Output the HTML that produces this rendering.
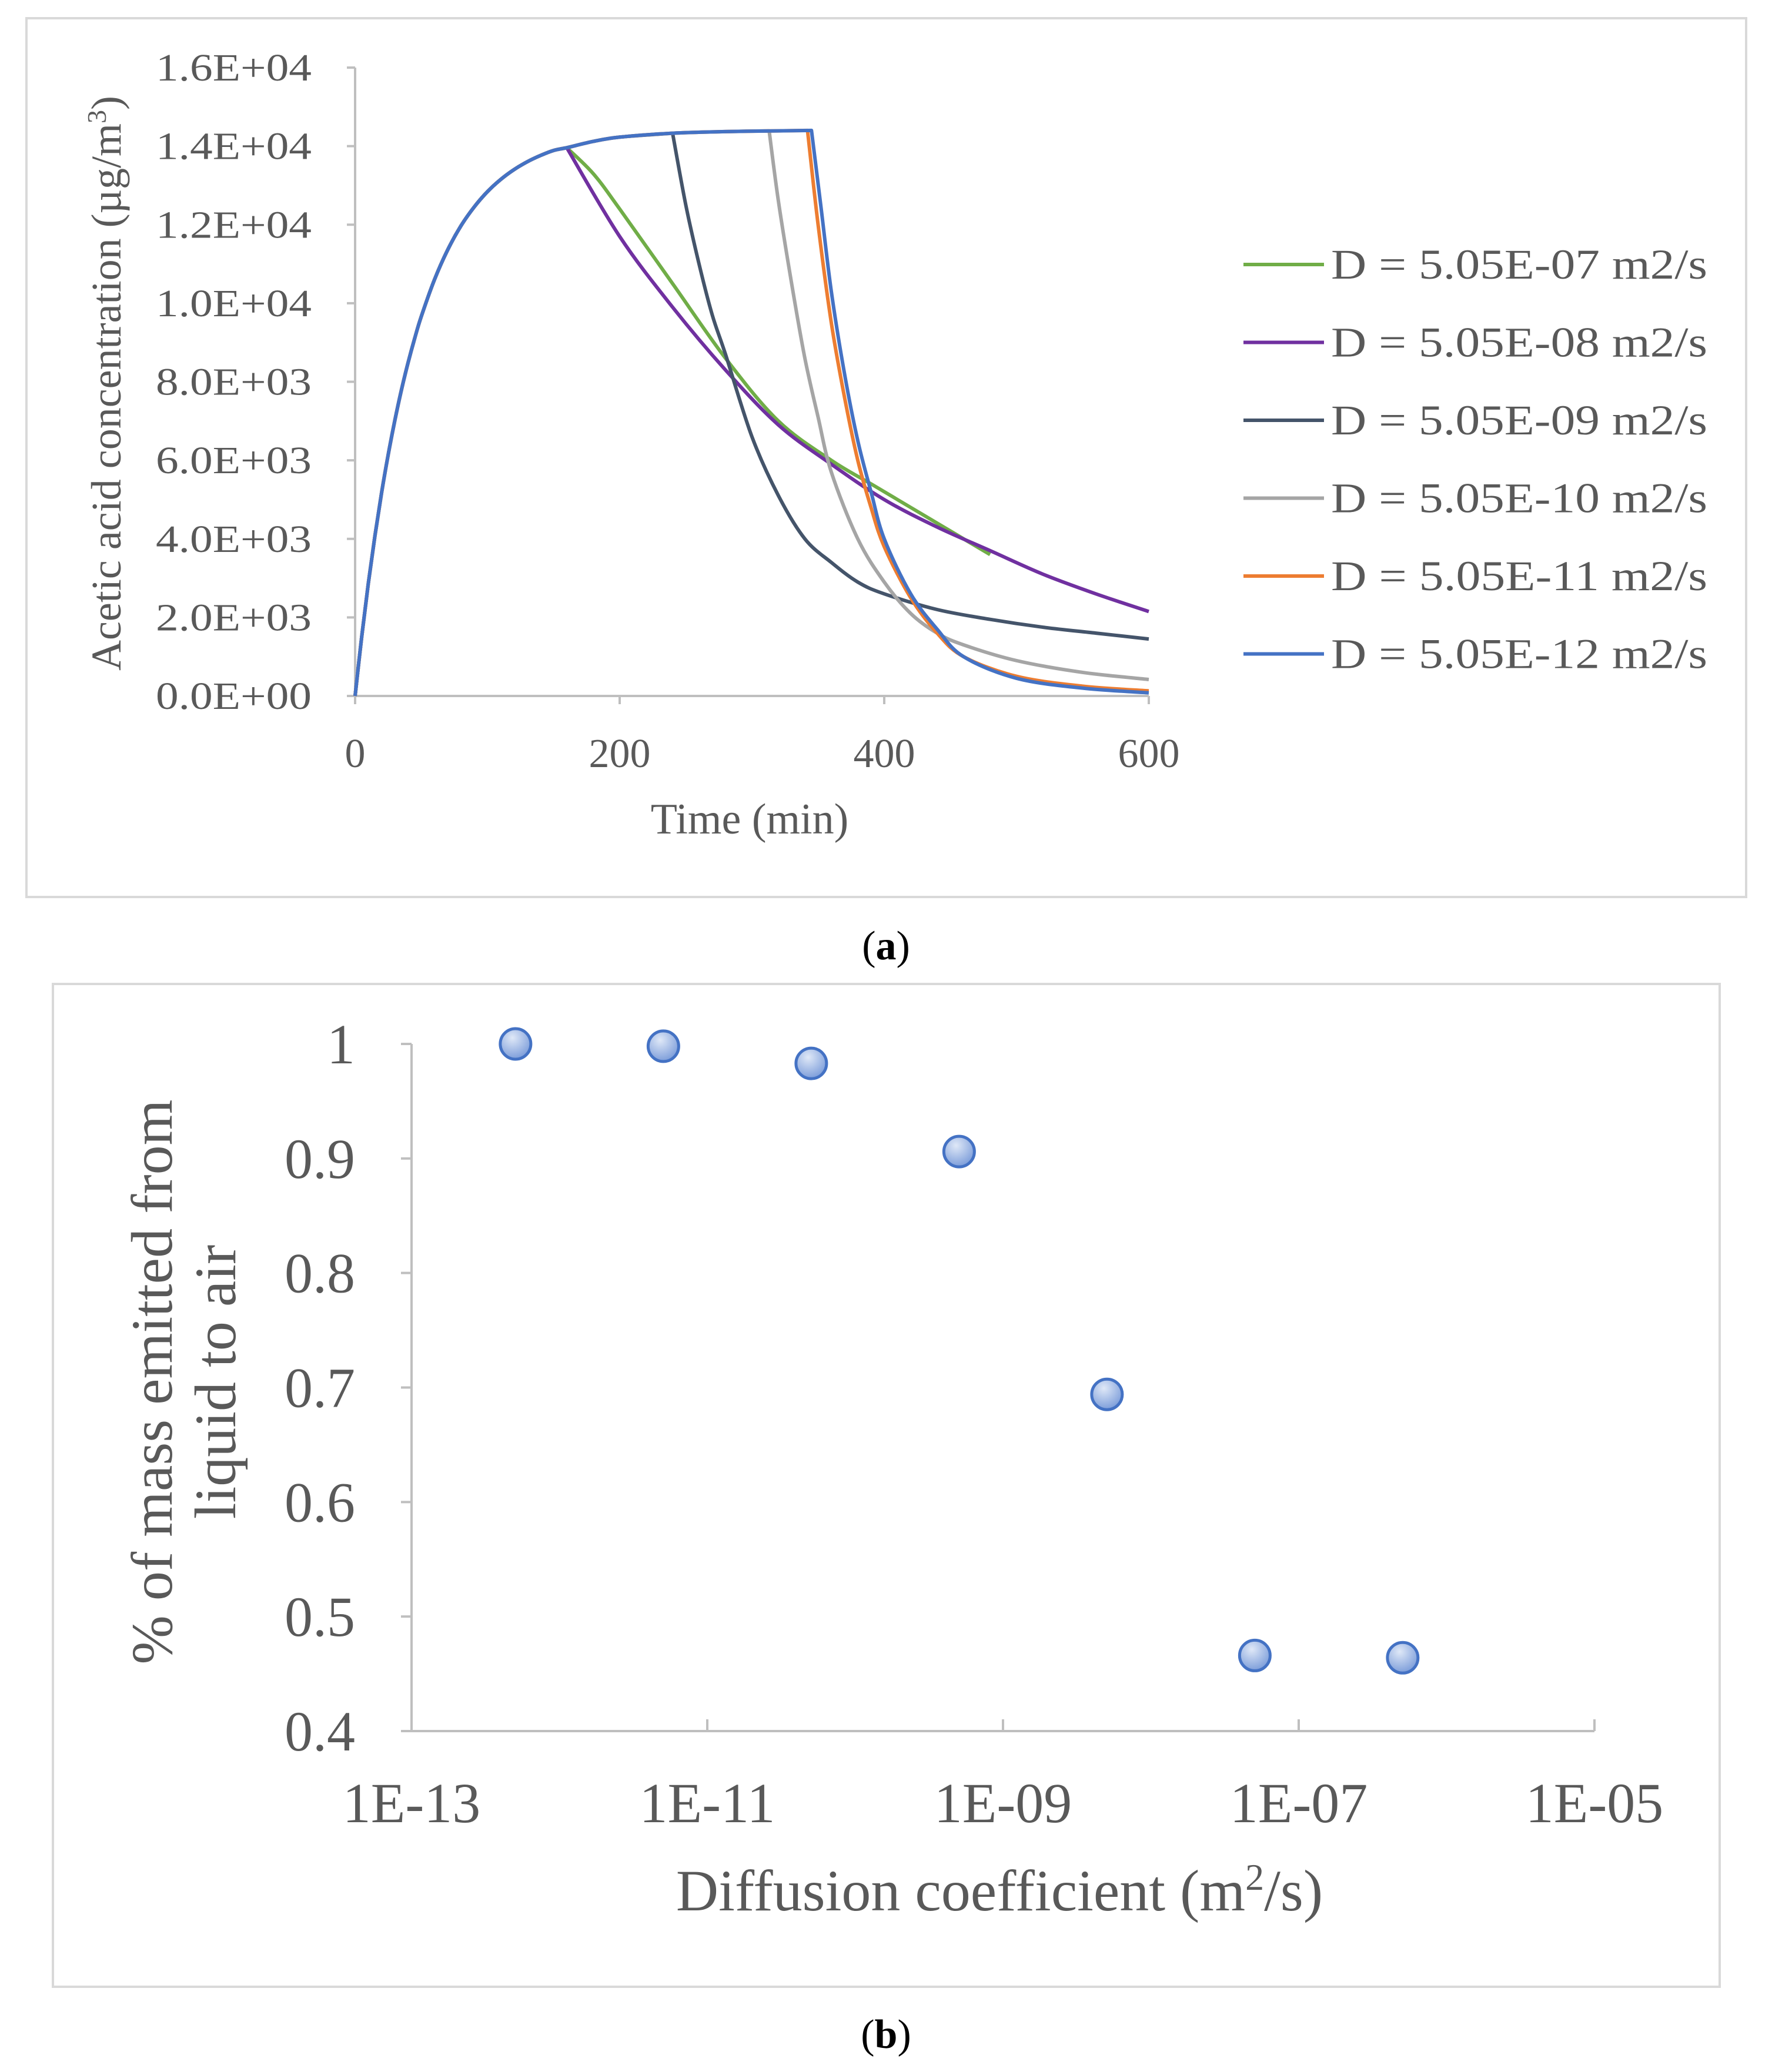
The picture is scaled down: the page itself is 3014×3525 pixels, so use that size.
<!DOCTYPE html>
<html><head><meta charset="utf-8"><style>
html,body{margin:0;padding:0;background:#fff}
svg{display:block}
text{font-family:"Liberation Serif","DejaVu Serif",serif;fill:#595959}
</style></head><body>
<svg id="s" width="3014" height="3525" viewBox="0 0 3014 3525" xmlns="http://www.w3.org/2000/svg">
<rect x="45" y="31" width="2925" height="1495" fill="#fff" stroke="#d9d9d9" stroke-width="4"/>
<g id="ga"></g>
<text x="1507" y="1632" font-size="70" text-anchor="middle" font-family="Liberation Serif, serif" style="fill:#000">(<tspan font-weight="bold">a</tspan>)</text>
<rect x="90" y="1674" width="2835" height="1706" fill="#fff" stroke="#d9d9d9" stroke-width="4"/>
<g id="gb"></g>
<text x="1507" y="3484" font-size="70" text-anchor="middle" font-family="Liberation Serif, serif" style="fill:#000">(<tspan font-weight="bold">b</tspan>)</text>
<defs><radialGradient id="mg" cx="0.4" cy="0.3" r="0.8"><stop offset="0" stop-color="#dfe8f7"/><stop offset="1" stop-color="#6f93d6"/></radialGradient></defs>
</svg>
<script>
// ---- Chart A data ----
const riseT = [0,5,10,15,20,25,30,35,40,45,50,60,70,80,90,100,110,120,130,140,150,160,180,200,240,280,320,345];
const riseV = [0,1510,2870,4080,5170,6140,7010,7790,8480,9100,9660,10600,11360,11970,12450,12840,13150,13400,13600,13760,13890,13960,14120,14230,14330,14370,14390,14400];
const seriesNames = ["D = 5.05E-07 m2/s","D = 5.05E-08 m2/s","D = 5.05E-09 m2/s","D = 5.05E-10 m2/s","D = 5.05E-11 m2/s","D = 5.05E-12 m2/s"];
const seriesColors = ["#70ad47","#7030a0","#44546a","#a5a5a5","#ed7d31","#4472c4"];
const decT07 = [160,180,200,240,280,320,360,390,420,450,480];
const decV07 = [13960,13300,12400,10500,8600,7000,6000,5400,4800,4200,3600];
const decT08 = [160,200,240,280,320,360,400,440,480,520,560,600];
const decV08 = [13960,11700,9900,8300,6900,5900,5000,4300,3700,3100,2600,2150];
const decT09 = [240,250,260,270,280,300,320,340,360,380,400,440,480,520,560,600];
const decV09 = [14330,12500,11000,9700,8700,6600,5100,4000,3400,2900,2600,2200,1950,1750,1600,1450];
const decT10 = [313,320,330,340,350,360,380,400,420,440,460,500,550,600];
const decV10 = [14390,12600,10500,8600,7100,5700,4000,2900,2100,1600,1300,900,600,420];
const decT11 = [342,350,360,370,380,390,400,420,440,460,500,550,600];
const decV11 = [14400,12000,9500,7600,6000,4800,3800,2500,1600,1000,500,250,130];
const decT12 = [345,352,360,370,380,390,400,420,440,460,500,550,600];
const decV12 = [14400,12500,10300,8200,6500,5200,4000,2600,1700,1000,450,200,80];
const yTicksA = ["0.0E+00","2.0E+03","4.0E+03","6.0E+03","8.0E+03","1.0E+04","1.2E+04","1.4E+04","1.6E+04"];
const xTicksA = [0,200,400,600];
// ---- Chart B data ----
const diffCoef = [5.05e-13,5.05e-12,5.05e-11,5.05e-10,5.05e-9,5.05e-8,5.05e-7];
const massFrac = [1.0,0.998,0.983,0.906,0.694,0.466,0.464];
const yTicksB = [0.4,0.5,0.6,0.7,0.8,0.9,1];
const xTicksB = ["1E-13","1E-11","1E-09","1E-07","1E-05"];

const NS="http://www.w3.org/2000/svg";
function mk(p,tag,at){const e=document.createElementNS(NS,tag);for(const k in at)e.setAttribute(k,at[k]);p.appendChild(e);return e;}
function smooth(pts){
 let d='M'+pts[0][0]+','+pts[0][1];
 for(let i=0;i<pts.length-1;i++){
  const p0=pts[Math.max(0,i-1)],p1=pts[i],p2=pts[i+1],p3=pts[Math.min(pts.length-1,i+2)];
  const c1=[p1[0]+(p2[0]-p0[0])/6,p1[1]+(p2[1]-p0[1])/6];
  const c2=[p2[0]-(p3[0]-p1[0])/6,p2[1]-(p3[1]-p1[1])/6];
  d+=' C'+c1.join(',')+' '+c2.join(',')+' '+p2.join(',');
 }
 return d;
}
// Chart A
const ga=document.getElementById('ga');
const AX0=604,AX1=1954,AY0=1184,AY1=115;
const xa=t=>AX0+(t/600)*(AX1-AX0);
const ya=v=>AY0-(v/16000)*(AY0-AY1);
let e;
e=mk(ga,'line',{x1:AX0,y1:AY1,x2:AX0,y2:AY0,stroke:'#bfbfbf','stroke-width':4});

e=mk(ga,'line',{x1:AX0,y1:AY0,x2:AX1,y2:AY0,stroke:'#bfbfbf','stroke-width':4});

yTicksA.forEach((lab,i)=>{const y=ya(i*2000);
 e=mk(ga,'line',{x1:AX0-14,y1:y,x2:AX0,y2:y,stroke:'#bfbfbf','stroke-width':4});
 
 e=mk(ga,'text',{x:530,y:y+22,'font-size':66,'text-anchor':'end','textLength':265,'lengthAdjust':'spacingAndGlyphs'});e.textContent=lab;
 });
xTicksA.forEach(t=>{const x=xa(t);
 e=mk(ga,'line',{x1:x,y1:AY0,x2:x,y2:AY0+14,stroke:'#bfbfbf','stroke-width':4});
 
 e=mk(ga,'text',{x:x,y:1305,'font-size':70,'text-anchor':'middle'});e.textContent=t;
 });
e=mk(ga,'text',{x:1275,y:1418,'font-size':74,'text-anchor':'middle'});e.textContent='Time (min)';

e=mk(ga,'text',{x:0,y:0,'font-size':72,'text-anchor':'middle',transform:'translate(205,652) rotate(-90)'});
e.innerHTML='Acetic acid concentration (µg/m<tspan dy="-25" font-size="46">3</tspan><tspan dy="25">)</tspan>';

const decT=[decT07,decT08,decT09,decT10,decT11,decT12],decV=[decV07,decV08,decV09,decV10,decV11,decV12];
decT.forEach((dt,s)=>{
 const rise=[];riseT.forEach((t,i)=>{if(t<dt[0])rise.push([xa(t),ya(riseV[i])]);});
 const dec=dt.map((t,i)=>[xa(t),ya(decV[s][i])]);
 rise.push(dec[0]);
 e=mk(ga,'path',{d:smooth(rise)+' '+smooth(dec).replace(/^M[^ ]+/,''),fill:'none',stroke:seriesColors[s],'stroke-width':6,'stroke-linejoin':'round'});
 
 const ly=450+s*132.5;
 e=mk(ga,'line',{x1:2115,y1:ly,x2:2252,y2:ly,stroke:seriesColors[s],'stroke-width':6});
 
 e=mk(ga,'text',{x:2264,y:ly+24,'font-size':72,'textLength':640,'lengthAdjust':'spacingAndGlyphs'});e.textContent=seriesNames[s];
 
});
// Chart B
const gb=document.getElementById('gb');
const BX0=700,BX1=2712,BY0=2945,BY1=1776;
const xb=d=>BX0+((Math.log10(d)+13)/8)*(BX1-BX0);
const yb=v=>BY0-((v-0.4)/0.6)*(BY0-BY1);
e=mk(gb,'line',{x1:BX0,y1:BY1,x2:BX0,y2:BY0,stroke:'#bfbfbf','stroke-width':4});

e=mk(gb,'line',{x1:BX0,y1:BY0,x2:BX1,y2:BY0,stroke:'#bfbfbf','stroke-width':4});

yTicksB.forEach(v=>{const y=yb(v);
 e=mk(gb,'line',{x1:BX0-18,y1:y,x2:BX0,y2:y,stroke:'#bfbfbf','stroke-width':4});
 
 e=mk(gb,'text',{x:604,y:y+33,'font-size':96,'text-anchor':'end'});e.textContent=String(v);
 });
xTicksB.forEach((lab,i)=>{const x=BX0+i*(BX1-BX0)/4;
 e=mk(gb,'line',{x1:x,y1:BY0,x2:x,y2:BY0-20,stroke:'#bfbfbf','stroke-width':4});
 
 e=mk(gb,'text',{x:x,y:3100,'font-size':96,'text-anchor':'middle'});e.textContent=lab;
 });
e=mk(gb,'text',{x:1700,y:3250,'font-size':100,'text-anchor':'middle'});
e.innerHTML='Diffusion coefficient (m<tspan dy="-35" font-size="64">2</tspan><tspan dy="35">/s)</tspan>';

e=mk(gb,'text',{x:0,y:0,'font-size':100,'text-anchor':'middle',transform:'translate(292,2351) rotate(-90)'});e.textContent='% of mass emitted from';

e=mk(gb,'text',{x:0,y:0,'font-size':100,'text-anchor':'middle',transform:'translate(400,2351) rotate(-90)'});e.textContent='liquid to air';

diffCoef.forEach((d,i)=>{
 e=mk(gb,'circle',{cx:xb(d),cy:yb(massFrac[i]),r:26,fill:'url(#mg)',stroke:'#4472c4','stroke-width':5});
 });
</script>
</body></html>
